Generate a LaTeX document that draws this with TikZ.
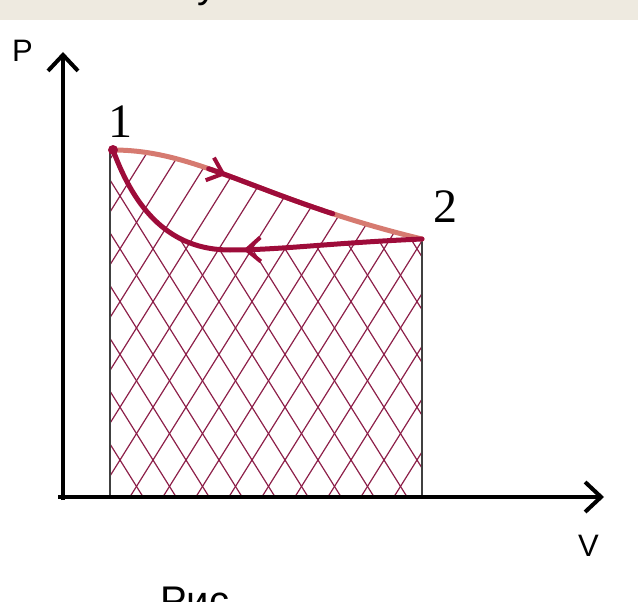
\documentclass[tikz,border=0pt]{standalone}
\usepackage{fontspec}
\setmainfont{Liberation Serif}
\newfontfamily\labelfont{Liberation Sans}
\usetikzlibrary{arrows.meta,decorations.markings}
\definecolor{bandbeige}{RGB}{238,234,224}
\definecolor{cyclered}{RGB}{158,12,58}
\definecolor{salmonred}{RGB}{214,122,112}
\definecolor{hatchred}{RGB}{140,30,72}
\begin{document}
\begin{tikzpicture}[
    x=1pt, y=-1pt,
    axis/.style={line width=4pt, -{Straight Barb[length=16pt,width=30pt,line width=4pt]}},
    edge/.style={line width=2pt, draw=black!75},
    hatch/.style={line width=1.2pt, draw=hatchred},
    curve/.style={line width=5pt, line cap=round, line join=round},
    lbl/.style={font=\labelfont\fontsize{31}{36}\selectfont, inner sep=0pt},
    num/.style={font=\fontsize{48}{56}\selectfont, inner sep=0pt},
    midarrow/.style={postaction={decorate}, decoration={markings,
        mark=at position #1 with {\arrow[cyclered]{Straight Barb[length=14pt,width=24pt,line width=4pt]}}}}
]
    \useasboundingbox (0,0) rectangle (638,602);
    % cut-off text above and below
    \fill[bandbeige] (0,0) rectangle (638,20);
    \node[font=\labelfont\fontsize{40}{48}\selectfont, anchor=base west, inner sep=0pt] (top) at (197,-2) {у};
    \node[font=\labelfont\fontsize{40}{48}\selectfont, anchor=base west, inner sep=0pt] (caption) at (160,614) {Рис};
    % states
    \coordinate (s1) at (113,150);
    \coordinate (s2) at (422,239);
    \coordinate (low) at (230,250);
    \coordinate (O) at (63,497);
    % hatching under 1-2 (upper)
    \begin{scope}
        \clip (110,497) -- (110,150) -- (s1) .. controls (200,150) and (260,200) .. (s2) -- (422,497) -- cycle;
        \foreach \x in {-400,-367,...,700}
            \draw[hatch] (\x,500) -- ++(250,-400);
    \end{scope}
    % hatching under 2-1 (lower)
    \begin{scope}
        \clip (110,497) -- (110,150) -- (s1) .. controls (135,210) and (170,250) .. (low)
            .. controls (280,250) and (330,243) .. (s2) -- (422,497) -- cycle;
        \foreach \x in {-20,13,...,800}
            \draw[hatch] (\x,500) -- ++(-250,-400);
    \end{scope}
    % borders of the area
    \draw[edge] (110,150) -- (110,497);
    \draw[edge] (s2) -- (422,497);
    % axes
    \draw[axis] (63,500) -- (63,52) coordinate (Ptip);
    \draw[axis] (58,497) -- (604,497) coordinate (Vtip);
    \node[lbl, anchor=north west] (P) at (12,40) {P};
    \node[lbl, anchor=north west] (V) at (578,535) {V};
    % process 1 -> 2
    \draw[curve, salmonred] (s1) .. controls (200,150) and (260,200) .. (s2);
    \draw[curve, cyclered, dash pattern=on 0pt off 98pt on 132pt off 500pt, midarrow=0.36]
        (s1) .. controls (200,150) and (260,200) .. (s2);
    % process 2 -> 1
    \draw[curve, cyclered, midarrow=0.5] (s2) .. controls (330,243) and (280,250) .. (low)
        .. controls (170,250) and (135,210) .. (s1);
    \fill[cyclered] (s1) circle (5pt);
    % state labels
    \node[num, anchor=south west] (n1) at (108,138) {1};
    \node[num, anchor=south west] (n2) at (433,223) {2};
\end{tikzpicture}
\end{document}
